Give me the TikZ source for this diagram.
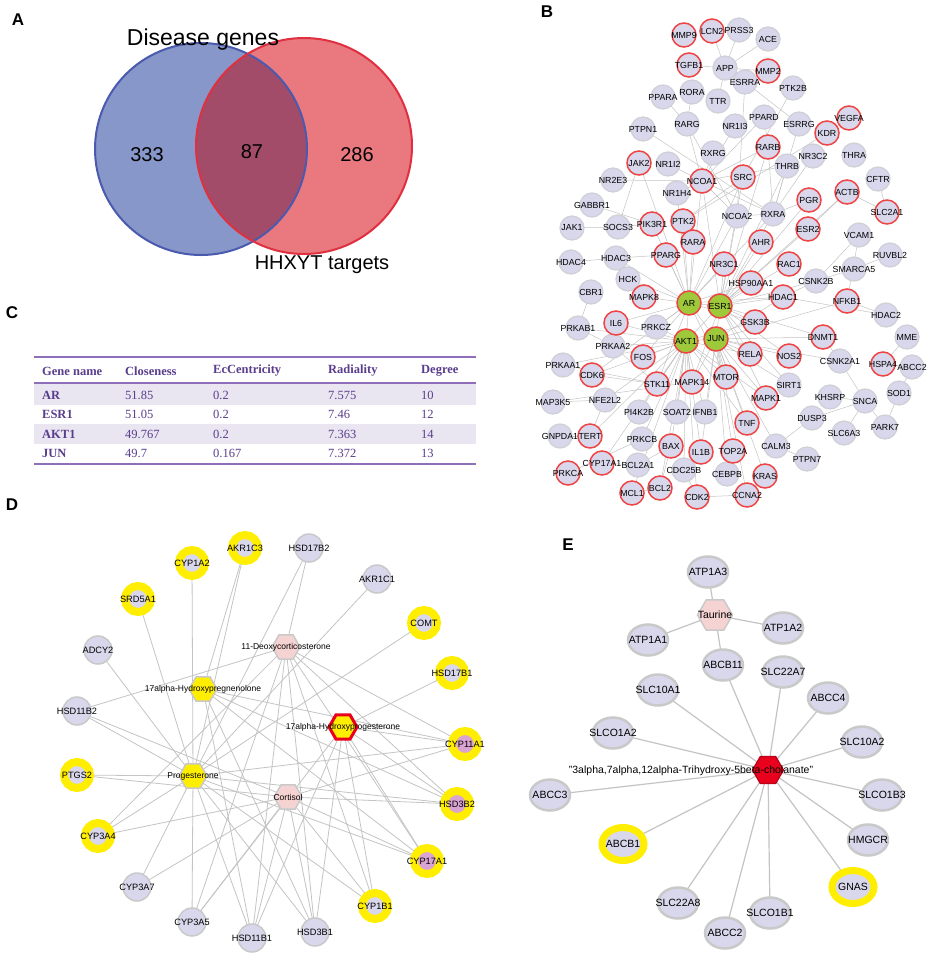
\documentclass[tikz,border=0pt]{standalone}
\usepackage{fontspec}
\setmainfont{Liberation Sans}
\newfontfamily\tabfont{Liberation Serif}
\usetikzlibrary{shapes.geometric,backgrounds}
\definecolor{lav}{HTML}{D9D7EB}
\definecolor{bgray}{HTML}{CFCFD6}
\definecolor{ringred}{HTML}{EE4444}
\definecolor{hubgreen}{HTML}{9DC93B}
\definecolor{edgegray}{HTML}{C4C4C4}
\definecolor{yel}{HTML}{FFEE00}
\definecolor{pinkin}{HTML}{D9A3D3}
\definecolor{hexpink}{HTML}{F6D3D3}
\definecolor{hexgray}{HTML}{C9C9C9}
\definecolor{hexred}{HTML}{E8001C}
\definecolor{vblue}{HTML}{8797C9}
\definecolor{vbluel}{HTML}{4A5AAE}
\definecolor{vred}{HTML}{E9787F}
\definecolor{vredl}{HTML}{E0303F}
\definecolor{vover}{HTML}{A24C6A}
\definecolor{tabpurple}{HTML}{5A3D8C}
\definecolor{tabline}{HTML}{8F6FBA}
\definecolor{tabshade}{HTML}{E9E5F1}
\tikzset{
  panel/.style={font=\fontsize{17}{17}\selectfont\bfseries, inner sep=0pt},
  bn/.style={circle, minimum size=24pt, inner sep=0pt, fill=lav, draw=bgray, line width=1.2pt},
  br/.style={bn, draw=ringred, line width=1.5pt},
  bgr/.style={br, fill=hubgreen},
  bl/.style={font=\fontsize{8.8}{8.8}\selectfont, inner sep=0pt},
  bedge/.style={draw=edgegray, line width=0.5pt},
  dn/.style={circle, minimum size=28pt, inner sep=0pt, fill=lav, draw=hexgray, line width=1.5pt},
  dy/.style={circle, minimum size=26pt, inner sep=0pt, fill=lav, draw=yel, line width=8pt},
  dyp/.style={dy, fill=pinkin},
  dl/.style={font=\fontsize{9.2}{9.2}\selectfont, inner sep=0pt},
  dhl/.style={font=\fontsize{8.5}{8.5}\selectfont, inner sep=0pt},
  hexs/.style={regular polygon, regular polygon sides=6, minimum size=28pt, inner sep=0pt, draw=hexgray, line width=1.5pt},
  dedge/.style={draw=edgegray, line width=0.8pt},
  en/.style={ellipse, minimum width=40pt, minimum height=31pt, inner sep=0pt, fill=lav, draw=hexgray, line width=2.5pt},
  ey/.style={ellipse, minimum width=42pt, minimum height=33pt, inner sep=0pt, fill=lav, draw=yel, line width=7pt},
  el/.style={font=\fontsize{10.5}{10.5}\selectfont, inner sep=0pt},
  eedge/.style={draw=edgegray, line width=1.2pt},
  tabt/.style={font=\tabfont\bfseries\fontsize{12.5}{12.5}\selectfont, text=tabpurple, anchor=west, inner sep=0pt},
  tabv/.style={font=\tabfont\fontsize{12.5}{12.5}\selectfont, text=tabpurple, anchor=west, inner sep=0pt},
  vtext/.style={font=\fontsize{20}{20}\selectfont, inner sep=0pt},
}
\begin{document}
\begin{tikzpicture}[x=1pt,y=-1pt]
\useasboundingbox (0,0) rectangle (927,954);
\begin{pgfonlayer}{background}
\fill[white] (0,0) rectangle (927,954);
\end{pgfonlayer}

% ---------------- Panel A ----------------
\node[panel] (lA) at (18,20) {A};
\fill[vblue] (201,149) circle (106);
\fill[vred] (304,146) circle (108);
\begin{scope}
  \clip (201,149) circle (106);
  \fill[vover] (304,146) circle (108);
\end{scope}
\draw[vbluel, line width=2pt] (201,149) circle (106);
\draw[vredl, line width=2pt] (304,146) circle (108);
\node[vtext, font=\fontsize{23}{23}\selectfont] (tDis) at (203,40) {Disease genes};
\node[vtext] (t333) at (147,155) {333};
\node[vtext] (t87) at (252,152) {87};
\node[vtext] (t286) at (357,155) {286};
\node[vtext] (tHH) at (322,265) {HHXYT targets};

% ---------------- Panel C ----------------
\node[panel] (lC) at (12,313) {C};
\fill[tabshade] (34,384) rectangle (476,405);
\fill[tabshade] (34,424) rectangle (476,444);
\draw[tabline, line width=1.5pt] (34,357) -- (476,357);
\draw[tabline, line width=1.2pt] (34,383) -- (476,383);
\draw[tabline, line width=1.5pt] (34,464) -- (476,464);
\node[tabt] (h1) at (42,371) {Gene name};
\node[tabt] (h2) at (125,371) {Closeness};
\node[tabt] (h3) at (213,371) {EcCentricity};
\node[tabt] (h4) at (328,371) {Radiality};
\node[tabt] (h5) at (421,371) {Degree};
\foreach \g/\c/\e/\r/\d/\y in {AR/51.85/0.2/7.575/10/395, ESR1/51.05/0.2/7.46/12/414, AKT1/49.767/0.2/7.363/14/434, JUN/49.7/0.167/7.372/13/453}{
  \node[tabt] (r\g) at (42,\y) {\g};
  \node[tabv] (c\g) at (125,\y) {\c};
  \node[tabv] (e\g) at (213,\y) {\e};
  \node[tabv] (a\g) at (328,\y) {\r};
  \node[tabv] (d\g) at (421,\y) {\d};
}

% ---------------- Panel B ----------------
\node[panel] (lB) at (547,12) {B};
\foreach \n/\x/\y in {PRSS3/739/30, ACE/768/39, APP/725/68, PPARA/663/97, RORA/692/92, ESRRA/745/82, PTK2B/793/88, TTR/718/101, PPARD/764/117, RARG/687/124, PTPN1/643/129, NR1I3/735/126, ESRRG/799/124, RXRG/713/153, NR1I2/668/164, NR3C2/813/156, THRA/854/155, THRB/787/166, NR2E3/613/180, CFTR/878/179, NR1H4/677/193, GABBR1/592/205, JAK1/572/228, SOCS3/618/227, NCOA2/737/216, RXRA/773/214, VCAM1/859/235, HDAC4/571/262, HDAC3/616/258, RUVBL2/890/255, SMARCA5/854/269, HCK/628/279, CSNK2B/816/281, CBR1/591/292, HDAC2/886/315, PRKAB1/578/328, PRKCZ/656/327, MME/907/337, PRKAA2/613/346, CSNK2A1/840/361, ABCC2/912/367, PRKAA1/563/365, SIRT1/789/385, SOD1/899/393, KHSRP/830/397, SNCA/865/401, MAP3K5/553/402, NFE2L2/605/400, PI4K2B/639/412, SOAT2/677/412, IFNB1/705/412, DUSP3/812/418, PARK7/885/427, SLC6A3/844/433, GNPDA1/560/436, PRKCB/642/439, CALM3/776/446, PTPN7/807/459, BCL2A1/638/465, CDC25B/684/470, CEBPB/727/474}{
  \node[bn, label={[bl]center:\n}] (b\n) at (\x,\y) {};
}
\foreach \n/\x/\y in {MMP9/684/35, LCN2/712/31, TGFB1/689/65, MMP2/768/71, VEGFA/849/118, KDR/827/133, RARB/768/147, JAK2/639/163, NCOA1/702/181, SRC/743/177, ACTB/847/192, PGR/809/200, SLC2A1/887/212, PIK3R1/652/224, PTK2/683/221, ESR2/808/229, RARA/693/242, AHR/761/242, PPARG/666/255, NR3C1/724/264, RAC1/789/264, HSP90AA1/751/283, MAPK8/644/297, HDAC1/783/297, NFKB1/847/301, IL6/616/323, GSK3B/755/322, DNMT1/823/337, RELA/750/354, NOS2/789/356, FOS/643/357, HSPA4/883/364, CDK6/592/375, MTOR/726/377, STK11/657/384, MAPK14/692/382, MAPK1/766/398, TNF/747/423, TERT/590/436, BAX/671/446, IL1B/701/452, TOP2A/733/451, CYP17A1/602/463, PRKCA/568/473, KRAS/765/476, BCL2/660/488, MCL1/632/493, CCNA2/747/495, CDK2/697/497}{
  \node[br, label={[bl]center:\n}] (b\n) at (\x,\y) {};
}
\foreach \n/\x/\y in {AR/689/303, ESR1/720/306, AKT1/686/341, JUN/716/339}{
  \node[bgr, label={[bl]center:\n}] (b\n) at (\x,\y) {};
}
\begin{pgfonlayer}{background}
\foreach \a/\bs in {
 AR/{ESR1,AKT1,JUN,NCOA1,NCOA2,RXRA,PPARG,RARA,PTK2,PIK3R1,MAPK8,HSP90AA1,NR3C1,SRC,STK11,FOS,GSK3B,HDAC1,MTOR,IL6,PRKCZ,CDK6,HCK,HDAC3,NR1H4,JAK2},
 ESR1/{AKT1,JUN,NCOA1,NCOA2,ESR2,PGR,AHR,RAC1,HDAC1,GSK3B,RELA,NOS2,DNMT1,SRC,HSP90AA1,NR3C1,RXRA,CSNK2B,MAPK1,SIRT1,MAPK14,THRB,RARB,ACTB},
 AKT1/{JUN,FOS,STK11,MAPK14,MTOR,PRKAA2,PRKCZ,CDK6,PI4K2B,SOAT2,IFNB1,TERT,BAX,BCL2,MCL1,IL1B,TNF,MAPK1,GSK3B,RELA,PRKAB1,PRKAA1,NFE2L2,PRKCB,CDC25B,CDK2,IL6,CYP17A1},
 JUN/{RELA,NOS2,MAPK1,TNF,MTOR,MAPK14,IFNB1,IL1B,TOP2A,DNMT1,SIRT1,CSNK2A1,HDAC1,KRAS,CALM3,CEBPB,CCNA2,NFKB1},
 NCOA1/{RARB,RXRG,NR1I2,NR1H4,PPARD,NR1I3,THRB,RXRA,NCOA2,RARG,NR2E3},
 RXRA/{NCOA2,PGR,THRB,RARB,ESRRG,PTPN1,NR3C2},
 APP/{TGFB1,LCN2,PRSS3,ACE,MMP2,TTR},
 RARG/{RORA,PPARA,NCOA2},
 ESRRA/{NCOA2,ESRRG},
 SOCS3/{JAK1,JAK2,PIK3R1},
 HDAC3/{HDAC4,PPARG},
 PRKAB1/{CBR1,PRKAA2},
 STK11/{PRKAA2,PRKAA1,CDK6},
 TERT/{GNPDA1,NFE2L2},
 NFE2L2/{MAP3K5},
 BCL2A1/{BAX,CYP17A1},
 BCL2/{MCL1,BAX},
 CDK2/{CDC25B,CCNA2},
 CALM3/{DUSP3,PTPN7},
 SNCA/{DUSP3,KHSRP,SLC6A3,PARK7,CSNK2A1},
 SOD1/{PARK7,ABCC2},
 HSPA4/{ABCC2,MME},
 CSNK2A1/{DNMT1},
 CSNK2B/{SMARCA5,VCAM1,HDAC1},
 SMARCA5/{RUVBL2},
 ACTB/{SLC2A1,ESR2},
 CFTR/{SLC2A1},
 VCAM1/{NFKB1},
 HDAC2/{NFKB1,HDAC1},
 PPARD/{RARB},
 KDR/{VEGFA,PTK2},
 GABBR1/{PIK3R1},
 MAPK14/{MAP3K5},
 PRKCA/{PRKCB},
 SRC/{PTK2,PTK2B}}{
  \foreach \b in \bs { \draw[bedge] (b\a.center) -- (b\b.center); }
}
\end{pgfonlayer}

% ---------------- Panel D ----------------
\node[panel] (lD) at (12,505) {D};
\foreach \n/\x/\y/\s in {AKR1C3/245/548/dy, HSD17B2/309/548/dn, CYP1A2/192/563/dy, AKR1C1/377/579/dn, COMT/424/623/dy, SRD5A1/138/599/dy, ADCY2/98/650/dn, HSD17B1/452/673/dy, HSD11B2/77/711/dn, CYP11A1/465/744/dyp, PTGS2/77/775/dy, HSD3B2/457/804/dyp, CYP3A4/98/836/dy, CYP17A1/427/861/dyp, CYP3A7/137/887/dn, CYP1B1/375/906/dy, CYP3A5/192/922/dn, HSD11B1/252/938/dn, HSD3B1/315/932/dn}{
  \node[\s, label={[dl]center:\n}] (d\n) at (\x,\y) {};
}
\node[hexs, fill=hexpink, label={[dhl]center:11-Deoxycorticosterone}] (dDOC) at (286,647) {};
\node[hexs, fill=yel, label={[dhl]center:17alpha-Hydroxypregnenolone}] (dHPN) at (203,689) {};
\node[hexs, fill=yel, draw=hexred, line width=3pt, label={[dhl]center:17alpha-Hydroxyprogesterone}] (dOHP) at (343,727) {};
\node[hexs, fill=yel, label={[dhl]center:Progesterone}] (dPROG) at (193,776) {};
\node[hexs, fill=hexpink, label={[dhl]center:Cortisol}] (dCORT) at (288,797) {};
\begin{pgfonlayer}{background}
\foreach \a/\bs in {
 PROG/{PTGS2,CYP3A4,CYP3A7,CYP3A5,HSD11B1,HSD3B1,CYP1B1,CYP17A1,HSD3B2,CYP11A1,SRD5A1,CYP1A2,AKR1C3,ADCY2,HSD11B2,AKR1C1,COMT,HSD17B2},
 CORT/{HSD11B2,HSD11B1,CYP3A4,CYP3A5,HSD3B2,CYP17A1,CYP1B1,HSD3B1,CYP11A1,PTGS2,CYP3A7},
 DOC/{CYP17A1,CYP11A1,HSD3B2,HSD11B1,HSD3B1,CYP1B1,HSD11B2,CYP3A5,CYP3A4,HSD17B2},
 HPN/{CYP17A1,HSD3B2,CYP11A1,HSD3B1,AKR1C3,HSD11B1},
 OHP/{HSD17B1,CYP11A1,HSD3B2,CYP17A1,CYP1B1,HSD11B1,HSD3B1,CYP3A5}}{
  \foreach \b in \bs { \draw[dedge] (d\a.center) -- (d\b.center); }
}
\end{pgfonlayer}

% ---------------- Panel E ----------------
\node[panel] (lE) at (568,545) {E};
\foreach \n/\x/\y in {ATP1A3/708/572, ATP1A1/648/640, ATP1A2/783/628, ABCB11/723/665, SLC22A7/783/672, SLC10A1/658/690, ABCC4/828/698, SLCO1A2/613/733, SLC10A2/862/742, SLCO1B3/882/795, ABCC3/550/795, HMGCR/868/840, SLC22A8/678/903, SLCO1B1/770/913, ABCC2/725/933}{
  \node[en, label={[el]center:\n}] (e\n) at (\x,\y) {};
}
\foreach \n/\x/\y in {ABCB1/623/844, GNAS/853/887}{
  \node[ey, label={[el]center:\n}] (e\n) at (\x,\y) {};
}
\node[hexs, minimum size=35pt, fill=hexpink, label={[el]center:Taurine}] (eTAU) at (715,615) {};
\node[hexs, minimum size=31pt, fill=hexred, draw=hexred!80!black, line width=1.2pt] (eCHO) at (768,770) {};
\node[el] (eCHOl) at (691,771) {"3alpha,7alpha,12alpha-Trihydroxy-5beta-cholanate"};
\begin{pgfonlayer}{background}
\foreach \b in {ATP1A3,ATP1A1,ATP1A2,ABCB11}{ \draw[eedge] (eTAU.center) -- (e\b.center); }
\foreach \b in {ABCB11,SLC22A7,SLC10A1,ABCC4,SLCO1A2,SLC10A2,SLCO1B3,ABCC3,HMGCR,ABCB1,GNAS,SLC22A8,SLCO1B1,ABCC2}{ \draw[eedge] (eCHO.center) -- (e\b.center); }
\end{pgfonlayer}
\end{tikzpicture}
\end{document}
